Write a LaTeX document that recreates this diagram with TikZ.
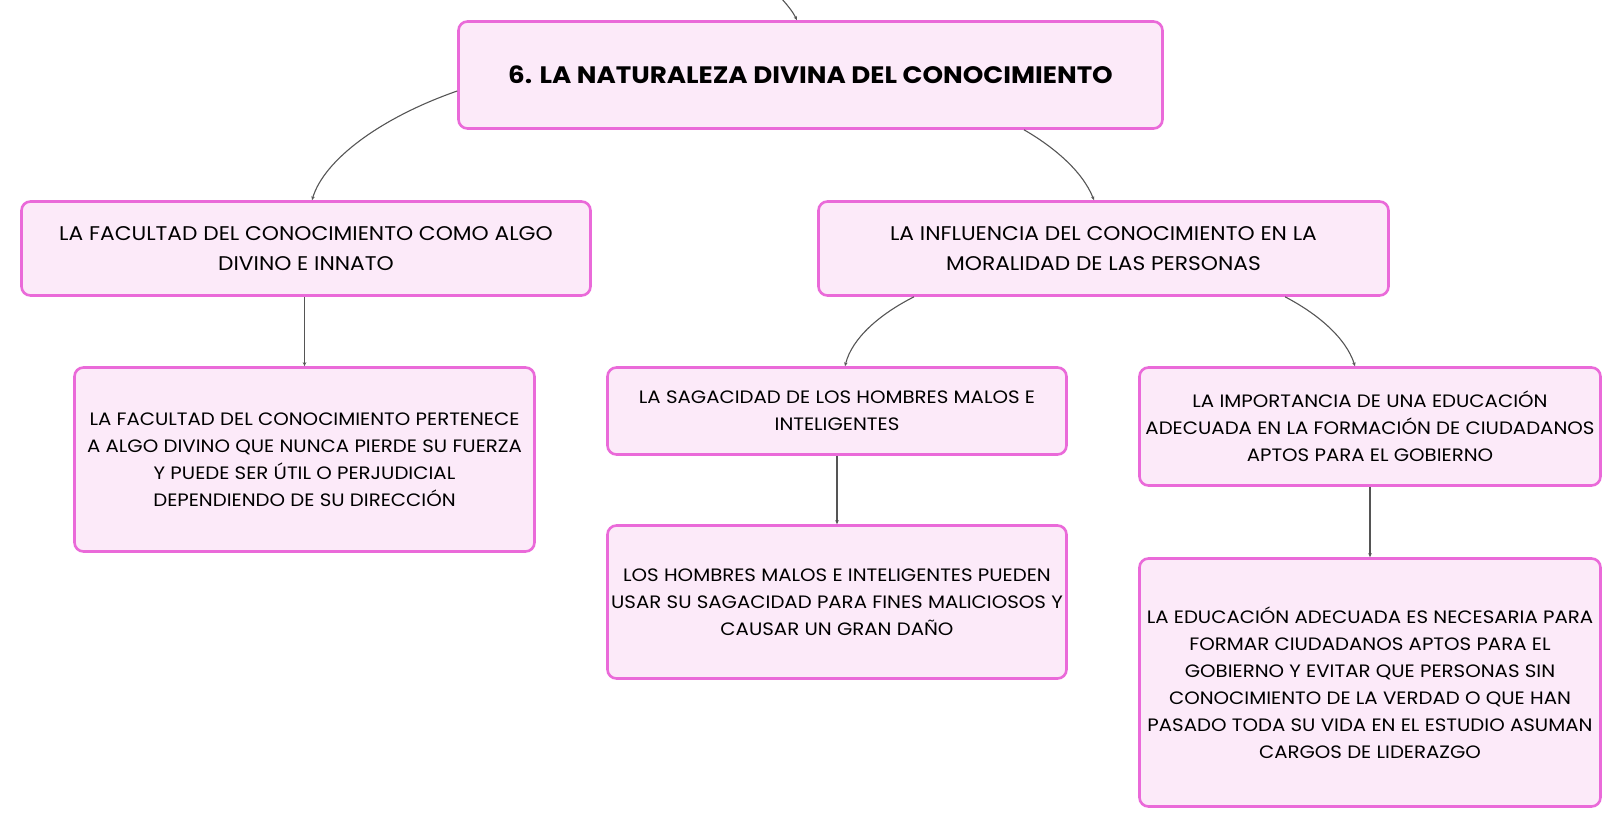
\documentclass[tikz,border=0pt]{standalone}
\usepackage{fontspec}
\setmainfont{Poppins}[FakeStretch=1.1]
\usetikzlibrary{arrows.meta,calc}
\definecolor{boxfill}{HTML}{FCEAF9}
\definecolor{boxdraw}{HTML}{EA6AD9}
\definecolor{conncol}{HTML}{555555}
\tikzset{
  mapbox/.style={draw=boxdraw, fill=boxfill, line width=2.6pt, rounded corners=9pt,
    align=center, inner sep=0pt, font=\fontsize{17.95}{27}\selectfont, text=black},
  levelbox/.style={mapbox, font=\fontsize{19.8}{30}\selectfont},
  titlebox/.style={mapbox, font=\fontsize{23.8}{30}\selectfont\bfseries},
  conn/.style={draw=conncol, line width=1.1pt, -{Stealth[length=4pt,width=3.5pt]}}
}
\begin{document}
\begin{tikzpicture}[x=1pt,y=-1pt]
\useasboundingbox (0,0) rectangle (1622,829);
\clip (0,0) rectangle (1622,829);
\node[titlebox, minimum width=704pt, minimum height=107pt] (root) at (810.5,75) {6. LA NATURALEZA DIVINA DEL CONOCIMIENTO};
\node[levelbox, minimum width=569pt, minimum height=94pt] (A) at (306,248.5) {LA FACULTAD DEL CONOCIMIENTO COMO ALGO\\DIVINO E INNATO};
\node[levelbox, minimum width=570pt, minimum height=94pt] (B) at (1103.5,248.5) {LA INFLUENCIA DEL CONOCIMIENTO EN LA\\MORALIDAD DE LAS PERSONAS};
\node[mapbox, minimum width=460pt, minimum height=184pt] (A1) at (304.5,459.5) {LA FACULTAD DEL CONOCIMIENTO PERTENECE\\A ALGO DIVINO QUE NUNCA PIERDE SU FUERZA\\Y PUEDE SER ÚTIL O PERJUDICIAL\\DEPENDIENDO DE SU DIRECCIÓN};
\node[mapbox, minimum width=459pt, minimum height=87pt] (B1) at (837,411) {LA SAGACIDAD DE LOS HOMBRES MALOS E\\INTELIGENTES};
\node[mapbox, minimum width=459pt, minimum height=153pt] (B1a) at (837,602) {LOS HOMBRES MALOS E INTELIGENTES PUEDEN\\USAR SU SAGACIDAD PARA FINES MALICIOSOS Y\\CAUSAR UN GRAN DAÑO};
\node[mapbox, minimum width=461pt, minimum height=118pt] (B2) at (1370,426.5) {LA IMPORTANCIA DE UNA EDUCACIÓN\\ADECUADA EN LA FORMACIÓN DE CIUDADANOS\\APTOS PARA EL GOBIERNO};
\node[mapbox, minimum width=461pt, minimum height=248pt] (B2a) at (1370,682.5) {LA EDUCACIÓN ADECUADA ES NECESARIA PARA\\FORMAR CIUDADANOS APTOS PARA EL\\GOBIERNO Y EVITAR QUE PERSONAS SIN\\CONOCIMIENTO DE LA VERDAD O QUE HAN\\PASADO TODA SU VIDA EN EL ESTUDIO ASUMAN\\CARGOS DE LIDERAZGO};
\coordinate (above) at (760,-25);
\draw[conn] (above) .. controls (775,-8) and (790,6) .. ([xshift=-13.5pt]root.north);
\draw[conn] ([yshift=-16pt]root.west) .. controls (380,118) and (324,160) .. ([xshift=6pt]A.north);
\draw[conn] ([xshift=213.5pt]root.south) .. controls (1052,146) and (1082,170) .. ([xshift=-9.5pt]B.north);
\draw[conn] (A1.north |- A.south) -- (A1.north);
\draw[conn] ([xshift=-189.5pt]B.south) .. controls (880,314) and (852,338) .. ([xshift=8pt]B1.north);
\draw[conn] ([xshift=181.5pt]B.south) .. controls (1318,314) and (1346,338) .. ([xshift=-15pt]B2.north);
\draw[conn] (B1.south) -- (B1a.north);
\draw[conn] (B2.south) -- (B2a.north);
\end{tikzpicture}
\end{document}
